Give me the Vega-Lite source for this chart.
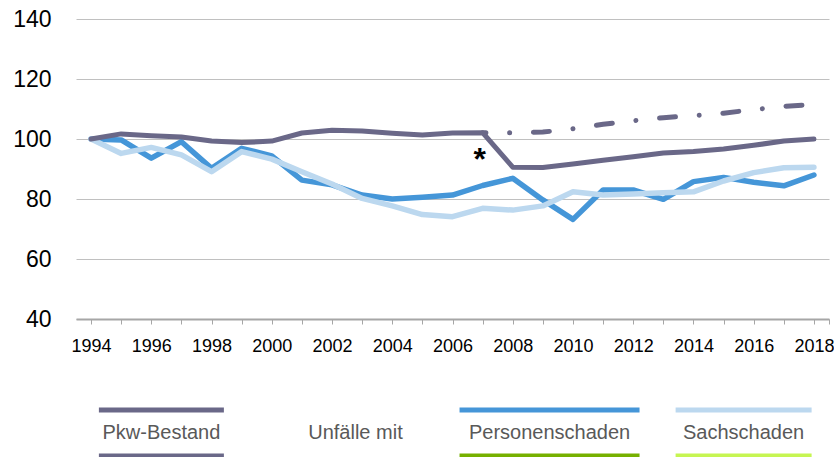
{
  "$schema": "https://vega.github.io/schema/vega-lite/v6.json",
  "background": "white",
  "autosize": {"type": "pad"},
  "padding": {"left": 12, "top": 8, "right": 0, "bottom": 0},
  "spacing": 52,
  "config": {"view": {"stroke": null}, "font": "Liberation Sans"},
  "datasets": {
    "reihen": [
      {"jahr": 1994, "reihe": "Pkw-Bestand", "wert": 100},
      {"jahr": 1995, "reihe": "Pkw-Bestand", "wert": 101.7},
      {"jahr": 1996, "reihe": "Pkw-Bestand", "wert": 101.1},
      {"jahr": 1997, "reihe": "Pkw-Bestand", "wert": 100.7},
      {"jahr": 1998, "reihe": "Pkw-Bestand", "wert": 99.3},
      {"jahr": 1999, "reihe": "Pkw-Bestand", "wert": 98.8},
      {"jahr": 2000, "reihe": "Pkw-Bestand", "wert": 99.3},
      {"jahr": 2001, "reihe": "Pkw-Bestand", "wert": 102.0},
      {"jahr": 2002, "reihe": "Pkw-Bestand", "wert": 102.9},
      {"jahr": 2003, "reihe": "Pkw-Bestand", "wert": 102.7},
      {"jahr": 2004, "reihe": "Pkw-Bestand", "wert": 101.9},
      {"jahr": 2005, "reihe": "Pkw-Bestand", "wert": 101.3},
      {"jahr": 2006, "reihe": "Pkw-Bestand", "wert": 102.0},
      {"jahr": 2007, "reihe": "Pkw-Bestand", "wert": 102.1},
      {"jahr": 2008, "reihe": "Pkw-Bestand", "wert": 90.6},
      {"jahr": 2009, "reihe": "Pkw-Bestand", "wert": 90.5},
      {"jahr": 2010, "reihe": "Pkw-Bestand", "wert": 91.7},
      {"jahr": 2011, "reihe": "Pkw-Bestand", "wert": 92.9},
      {"jahr": 2012, "reihe": "Pkw-Bestand", "wert": 94.1},
      {"jahr": 2013, "reihe": "Pkw-Bestand", "wert": 95.3},
      {"jahr": 2014, "reihe": "Pkw-Bestand", "wert": 95.8},
      {"jahr": 2015, "reihe": "Pkw-Bestand", "wert": 96.7},
      {"jahr": 2016, "reihe": "Pkw-Bestand", "wert": 97.9},
      {"jahr": 2017, "reihe": "Pkw-Bestand", "wert": 99.3},
      {"jahr": 2018, "reihe": "Pkw-Bestand", "wert": 100.0},
      {"jahr": 2007, "reihe": "Pkw-Bestand (ohne Statistikbruch)", "wert": 102.1},
      {"jahr": 2008, "reihe": "Pkw-Bestand (ohne Statistikbruch)", "wert": 102.1},
      {"jahr": 2009, "reihe": "Pkw-Bestand (ohne Statistikbruch)", "wert": 102.3},
      {"jahr": 2010, "reihe": "Pkw-Bestand (ohne Statistikbruch)", "wert": 103.4},
      {"jahr": 2011, "reihe": "Pkw-Bestand (ohne Statistikbruch)", "wert": 104.9},
      {"jahr": 2012, "reihe": "Pkw-Bestand (ohne Statistikbruch)", "wert": 106.1},
      {"jahr": 2013, "reihe": "Pkw-Bestand (ohne Statistikbruch)", "wert": 107.1},
      {"jahr": 2014, "reihe": "Pkw-Bestand (ohne Statistikbruch)", "wert": 107.8},
      {"jahr": 2015, "reihe": "Pkw-Bestand (ohne Statistikbruch)", "wert": 108.6},
      {"jahr": 2016, "reihe": "Pkw-Bestand (ohne Statistikbruch)", "wert": 109.8},
      {"jahr": 2017, "reihe": "Pkw-Bestand (ohne Statistikbruch)", "wert": 110.9},
      {"jahr": 2018, "reihe": "Pkw-Bestand (ohne Statistikbruch)", "wert": 111.5},
      {"jahr": 1994, "reihe": "Personenschaden", "wert": 100},
      {"jahr": 1995, "reihe": "Personenschaden", "wert": 99.7},
      {"jahr": 1996, "reihe": "Personenschaden", "wert": 93.6},
      {"jahr": 1997, "reihe": "Personenschaden", "wert": 99.1},
      {"jahr": 1998, "reihe": "Personenschaden", "wert": 90.2},
      {"jahr": 1999, "reihe": "Personenschaden", "wert": 96.9},
      {"jahr": 2000, "reihe": "Personenschaden", "wert": 94.4},
      {"jahr": 2001, "reihe": "Personenschaden", "wert": 86.3},
      {"jahr": 2002, "reihe": "Personenschaden", "wert": 84.7},
      {"jahr": 2003, "reihe": "Personenschaden", "wert": 81.3},
      {"jahr": 2004, "reihe": "Personenschaden", "wert": 80.0},
      {"jahr": 2005, "reihe": "Personenschaden", "wert": 80.6},
      {"jahr": 2006, "reihe": "Personenschaden", "wert": 81.3},
      {"jahr": 2007, "reihe": "Personenschaden", "wert": 84.5},
      {"jahr": 2008, "reihe": "Personenschaden", "wert": 86.9},
      {"jahr": 2009, "reihe": "Personenschaden", "wert": 79.7},
      {"jahr": 2010, "reihe": "Personenschaden", "wert": 73.2},
      {"jahr": 2011, "reihe": "Personenschaden", "wert": 83.0},
      {"jahr": 2012, "reihe": "Personenschaden", "wert": 83.0},
      {"jahr": 2013, "reihe": "Personenschaden", "wert": 79.9},
      {"jahr": 2014, "reihe": "Personenschaden", "wert": 85.8},
      {"jahr": 2015, "reihe": "Personenschaden", "wert": 87.2},
      {"jahr": 2016, "reihe": "Personenschaden", "wert": 85.6},
      {"jahr": 2017, "reihe": "Personenschaden", "wert": 84.4},
      {"jahr": 2018, "reihe": "Personenschaden", "wert": 88.0},
      {"jahr": 1994, "reihe": "Sachschaden", "wert": 100},
      {"jahr": 1995, "reihe": "Sachschaden", "wert": 95.2},
      {"jahr": 1996, "reihe": "Sachschaden", "wert": 97.2},
      {"jahr": 1997, "reihe": "Sachschaden", "wert": 94.7},
      {"jahr": 1998, "reihe": "Sachschaden", "wert": 89.1},
      {"jahr": 1999, "reihe": "Sachschaden", "wert": 95.8},
      {"jahr": 2000, "reihe": "Sachschaden", "wert": 93.3},
      {"jahr": 2001, "reihe": "Sachschaden", "wert": 89.1},
      {"jahr": 2002, "reihe": "Sachschaden", "wert": 85.0},
      {"jahr": 2003, "reihe": "Sachschaden", "wert": 80.2},
      {"jahr": 2004, "reihe": "Sachschaden", "wert": 77.7},
      {"jahr": 2005, "reihe": "Sachschaden", "wert": 74.8},
      {"jahr": 2006, "reihe": "Sachschaden", "wert": 74.1},
      {"jahr": 2007, "reihe": "Sachschaden", "wert": 76.9},
      {"jahr": 2008, "reihe": "Sachschaden", "wert": 76.3},
      {"jahr": 2009, "reihe": "Sachschaden", "wert": 77.7},
      {"jahr": 2010, "reihe": "Sachschaden", "wert": 82.4},
      {"jahr": 2011, "reihe": "Sachschaden", "wert": 81.3},
      {"jahr": 2012, "reihe": "Sachschaden", "wert": 81.7},
      {"jahr": 2013, "reihe": "Sachschaden", "wert": 82.1},
      {"jahr": 2014, "reihe": "Sachschaden", "wert": 82.4},
      {"jahr": 2015, "reihe": "Sachschaden", "wert": 86.0},
      {"jahr": 2016, "reihe": "Sachschaden", "wert": 88.8},
      {"jahr": 2017, "reihe": "Sachschaden", "wert": 90.4},
      {"jahr": 2018, "reihe": "Sachschaden", "wert": 90.6}
    ],
    "legende": [
      {"eintrag": "Pkw-Bestand", "zeile": "oben", "reihe": "Pkw-Bestand"},
      {"eintrag": "Pkw-Bestand", "zeile": "text", "text": "Pkw-Bestand"},
      {"eintrag": "Pkw-Bestand", "zeile": "unten", "reihe": "Pkw-Bestand"},
      {"eintrag": "Unfälle mit", "zeile": "text", "text": "Unfälle mit"},
      {"eintrag": "Personenschaden", "zeile": "oben", "reihe": "Personenschaden"},
      {"eintrag": "Personenschaden", "zeile": "text", "text": "Personenschaden"},
      {"eintrag": "Personenschaden", "zeile": "unten", "reihe": "Personenschaden (2)"},
      {"eintrag": "Sachschaden", "zeile": "oben", "reihe": "Sachschaden"},
      {"eintrag": "Sachschaden", "zeile": "text", "text": "Sachschaden"},
      {"eintrag": "Sachschaden", "zeile": "unten", "reihe": "Sachschaden (2)"}
    ]
  },
  "vconcat": [
    {
      "width": 753,
      "height": 300,
      "data": {"name": "reihen"},
      "encoding": {
        "x": {
          "field": "jahr", "type": "quantitative",
          "scale": {"domain": [1993.5, 2018.5], "nice": false, "zero": false},
          "axis": {
            "title": null,
            "values": [1994, 1995, 1996, 1997, 1998, 1999, 2000, 2001, 2002, 2003, 2004, 2005, 2006, 2007, 2008, 2009, 2010, 2011, 2012, 2013, 2014, 2015, 2016, 2017, 2018, 2018.5],
            "labelExpr": "datum.value % 2 === 0 ? format(datum.value, 'd') : ''",
            "grid": false,
            "domainColor": "#a6a6a6", "domainWidth": 2,
            "tickColor": "#a6a6a6", "tickWidth": 1, "tickSize": 5,
            "labelFont": "Liberation Sans", "labelFontSize": 18, "labelColor": "#000000",
            "labelPadding": 13, "labelOverlap": false, "labelFlush": false, "labelBound": false
          }
        },
        "y": {
          "field": "wert", "type": "quantitative",
          "scale": {"domain": [40, 140], "nice": false, "zero": false},
          "axis": {
            "title": null,
            "values": [40, 60, 80, 100, 120, 140],
            "domain": false, "ticks": false, "tickSize": 0,
            "grid": true, "gridColor": "#c0c0c0", "gridWidth": 1,
            "labelFont": "Liberation Sans", "labelFontSize": 23, "labelColor": "#000000",
            "labelPadding": 25
          }
        },
        "color": {
          "field": "reihe", "type": "nominal", "legend": null,
          "scale": {
            "domain": ["Pkw-Bestand", "Pkw-Bestand (ohne Statistikbruch)", "Personenschaden", "Sachschaden", "Personenschaden (2)", "Sachschaden (2)"],
            "range": ["#6a6888", "#6a6888", "#4596d8", "#bcd8ef", "#76b000", "#c6f552"]
          }
        }
      },
      "layer": [
        {
          "transform": [{"filter": "datum.reihe === 'Personenschaden'"}],
          "mark": {"type": "line", "strokeWidth": 5.5, "strokeJoin": "round", "strokeCap": "round"}
        },
        {
          "transform": [{"filter": "datum.reihe === 'Sachschaden'"}],
          "mark": {"type": "line", "strokeWidth": 5.5, "strokeJoin": "round", "strokeCap": "round"}
        },
        {
          "transform": [{"filter": "datum.reihe === 'Pkw-Bestand (ohne Statistikbruch)'"}],
          "mark": {"type": "line", "strokeWidth": 5, "strokeCap": "round", "strokeDash": [0.01, 23.75, 16, 23.75], "strokeDashOffset": 36.5}
        },
        {
          "transform": [{"filter": "datum.reihe === 'Pkw-Bestand'"}],
          "mark": {"type": "line", "strokeWidth": 5, "strokeJoin": "round", "strokeCap": "round"}
        },
        {
          "data": {"values": [{"jahr": 2006.9, "wert": 93.0, "zeichen": "*"}]},
          "mark": {"type": "text", "font": "Liberation Sans", "fontWeight": "bold", "fontSize": 32, "baseline": "middle", "align": "center"},
          "encoding": {"text": {"field": "zeichen"}, "color": {"value": "#000000"}}
        }
      ]
    },
    {
      "width": 753,
      "height": 46,
      "data": {"name": "legende"},
      "encoding": {
        "x": {
          "field": "eintrag", "type": "nominal", "axis": null,
          "scale": {"type": "point", "domain": ["Pkw-Bestand", "Unfälle mit", "Personenschaden", "Sachschaden"], "padding": 0.44}
        },
        "y": {
          "field": "zeile", "type": "nominal", "axis": null,
          "scale": {"type": "point", "domain": ["oben", "text", "unten"], "padding": 0}
        }
      },
      "layer": [
        {
          "transform": [{"filter": "datum.zeile !== 'text'"}],
          "mark": {"type": "tick", "orient": "horizontal", "thickness": 5, "opacity": 1},
          "encoding": {
            "color": {
              "field": "reihe", "type": "nominal", "legend": null,
              "scale": {
                "domain": ["Pkw-Bestand", "Pkw-Bestand (ohne Statistikbruch)", "Personenschaden", "Sachschaden", "Personenschaden (2)", "Sachschaden (2)"],
                "range": ["#6a6888", "#6a6888", "#4596d8", "#bcd8ef", "#76b000", "#c6f552"]
              }
            },
            "size": {
              "field": "eintrag", "type": "nominal", "legend": null,
              "scale": {"type": "ordinal", "domain": ["Pkw-Bestand", "Personenschaden", "Sachschaden"], "range": [125, 180, 136]}
            }
          }
        },
        {
          "transform": [{"filter": "datum.zeile === 'text'"}],
          "mark": {"type": "text", "font": "Liberation Sans", "fontSize": 20, "color": "#595959", "baseline": "middle", "align": "center"},
          "encoding": {"text": {"field": "text"}}
        }
      ]
    }
  ]
}
